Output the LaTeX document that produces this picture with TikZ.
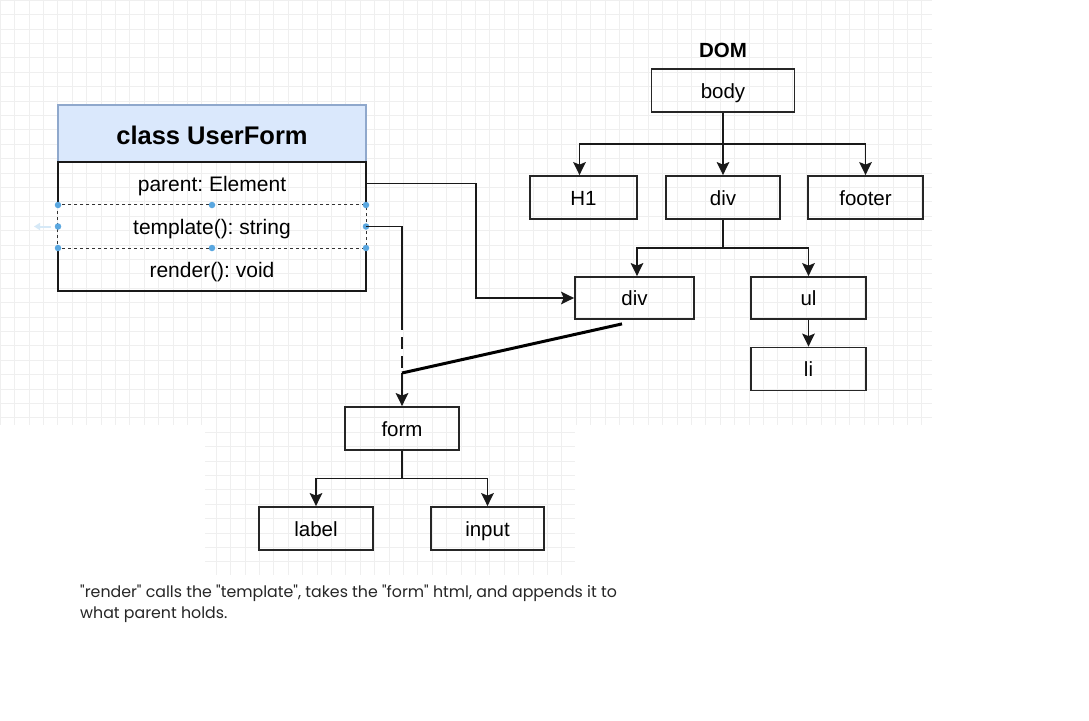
\documentclass[tikz,border=0pt]{standalone}
\usepackage{fontspec}
\setmainfont{Liberation Sans}
\newfontfamily\notefont{Poppins}
\usetikzlibrary{arrows.meta}
\definecolor{hdrfill}{HTML}{DAE8FC}
\definecolor{hdrdraw}{HTML}{8FA8CC}
\definecolor{handle}{HTML}{5AA7E0}
\definecolor{gridc}{HTML}{EFEFEF}
\frenchspacing
\begin{document}
\begin{tikzpicture}[x=1pt,y=-1pt,
  box/.style={draw=black!85,line width=1.8pt,minimum height=43pt,inner sep=0pt,text height=17pt,text depth=1.5pt,font=\fontsize{20.5}{24}\selectfont},
  rowtxt/.style={minimum width=308pt,minimum height=43pt,inner sep=0pt,text height=17pt,text depth=1.5pt,font=\fontsize{21}{24}\selectfont},
  edge/.style={line width=1.7pt,draw=black!90},
  conn/.style={edge,-{Stealth[length=13pt,width=12.5pt,inset=2.5pt]}},
  handledot/.style={fill=handle,draw=none,circle,minimum size=6.5pt,inner sep=0pt}]
\useasboundingbox (0,0) rectangle (1089,720);
\fill[white] (0,0) rectangle (1089,720);
% faint background grid
\foreach \gx in {0,14.4,...,932} \draw[gridc,line width=0.6pt] (\gx,0) -- (\gx,425);
\foreach \gy in {0,14.4,...,425} \draw[gridc,line width=0.6pt] (0,\gy) -- (932,\gy);
\foreach \gx in {216,230.4,...,575} \draw[gridc,line width=0.6pt] (\gx,425) -- (\gx,575);
\foreach \gy in {432,446.4,...,575} \draw[gridc,line width=0.6pt] (205,\gy) -- (575,\gy);

% class UserForm
\node[draw=hdrdraw,fill=hdrfill,line width=1.4pt,minimum width=308pt,minimum height=57pt,inner sep=0pt,
      text height=22pt,text depth=0pt,
      font=\bfseries\fontsize{25.5}{28}\selectfont] (cls) at (212,133.5) {class UserForm};
\node[rowtxt] (parent) at (212,183.5) {parent: Element};
\node[rowtxt] (template) at (212,226.5) {template(): string};
\node[rowtxt] (render) at (212,269.5) {render(): void};
\draw[edge] (parent.south west) -- (parent.north west) -- (parent.north east) -- (parent.south east);
\draw[edge] (template.south east) -- (render.south east) -- (render.south west) -- (template.south west);
\draw[black!80,line width=0.9pt,dashed] (template.north west) rectangle (template.south east);
\foreach \p in {(58,205),(212,205),(366,205),(58,226.5),(366,226.5),(58,248),(212,248),(366,248)}
  \node[handledot] at \p {};
\draw[handle!25,line width=2pt,-{Triangle[length=6pt,width=7pt]}] (51,226.5) -- (34,226.5);

% DOM tree
\node[font=\bfseries\fontsize{20.5}{24}\selectfont] (dom) at (723,50) {DOM};
\node[box,minimum width=143pt] (body) at (723,90.5) {body};
\node[box,minimum width=107pt] (h1) at (583.5,197.5) {H1};
\node[box,minimum width=114pt] (div1) at (723,197.5) {div};
\node[box,minimum width=115pt] (footer) at (865.5,197.5) {footer};
\node[box,minimum width=119pt,minimum height=42pt] (div2) at (634.5,298) {div};
\node[box,minimum width=115pt,minimum height=42pt] (ul) at (808.5,298) {ul};
\node[box,minimum width=115pt] (li) at (808.5,369) {li};
\node[box,minimum width=114pt] (form) at (402,428.5) {form};
\node[box,minimum width=114pt] (label) at (316,528.5) {label};
\node[box,minimum width=113pt] (input) at (487.5,528.5) {input};

% tree connectors
\coordinate (bj) at (723,144);
\draw[edge] (body.south) -- (bj);
\draw[conn] (bj) -| ([xshift=-4pt]h1.north);
\draw[conn] (bj) -- (div1.north);
\draw[conn] (bj) -| (footer.north);
\coordinate (dj) at (723,248);
\draw[edge] (div1.south) -- (dj);
\draw[conn] (dj) -| ([xshift=2.5pt]div2.north);
\draw[conn] (dj) -| (ul.north);
\draw[conn] (ul.south) -- (li.north);
\coordinate (fj) at (402,478.5);
\draw[edge] (form.south) -- (fj);
\draw[conn] (fj) -| (label.north);
\draw[conn] (fj) -| (input.north);

% class to DOM connectors
\draw[conn] (parent.east) -- (476,183.5) |- (div2.west);
\coordinate (tj) at (402,318);
\coordinate (tk) at (402,373);
\draw[edge] (template.east) -| (tj);
\draw[edge,dash pattern=on 12pt off 7pt] (tj) -- (tk);
\draw[conn] (tk) -- (form.north);
\draw[line width=3pt,black] (tk) -- ([shift={(-12.5,4)}]div2.south);

% note
\node[anchor=north west,align=left,inner sep=0pt,text=black!85,
      font=\notefont\fontsize{15.8}{21.5}\selectfont] (note) at (80,584.5)
  {"render" calls the "template", takes the "form" html, and appends it to\\what parent holds.};
\end{tikzpicture}
\end{document}
